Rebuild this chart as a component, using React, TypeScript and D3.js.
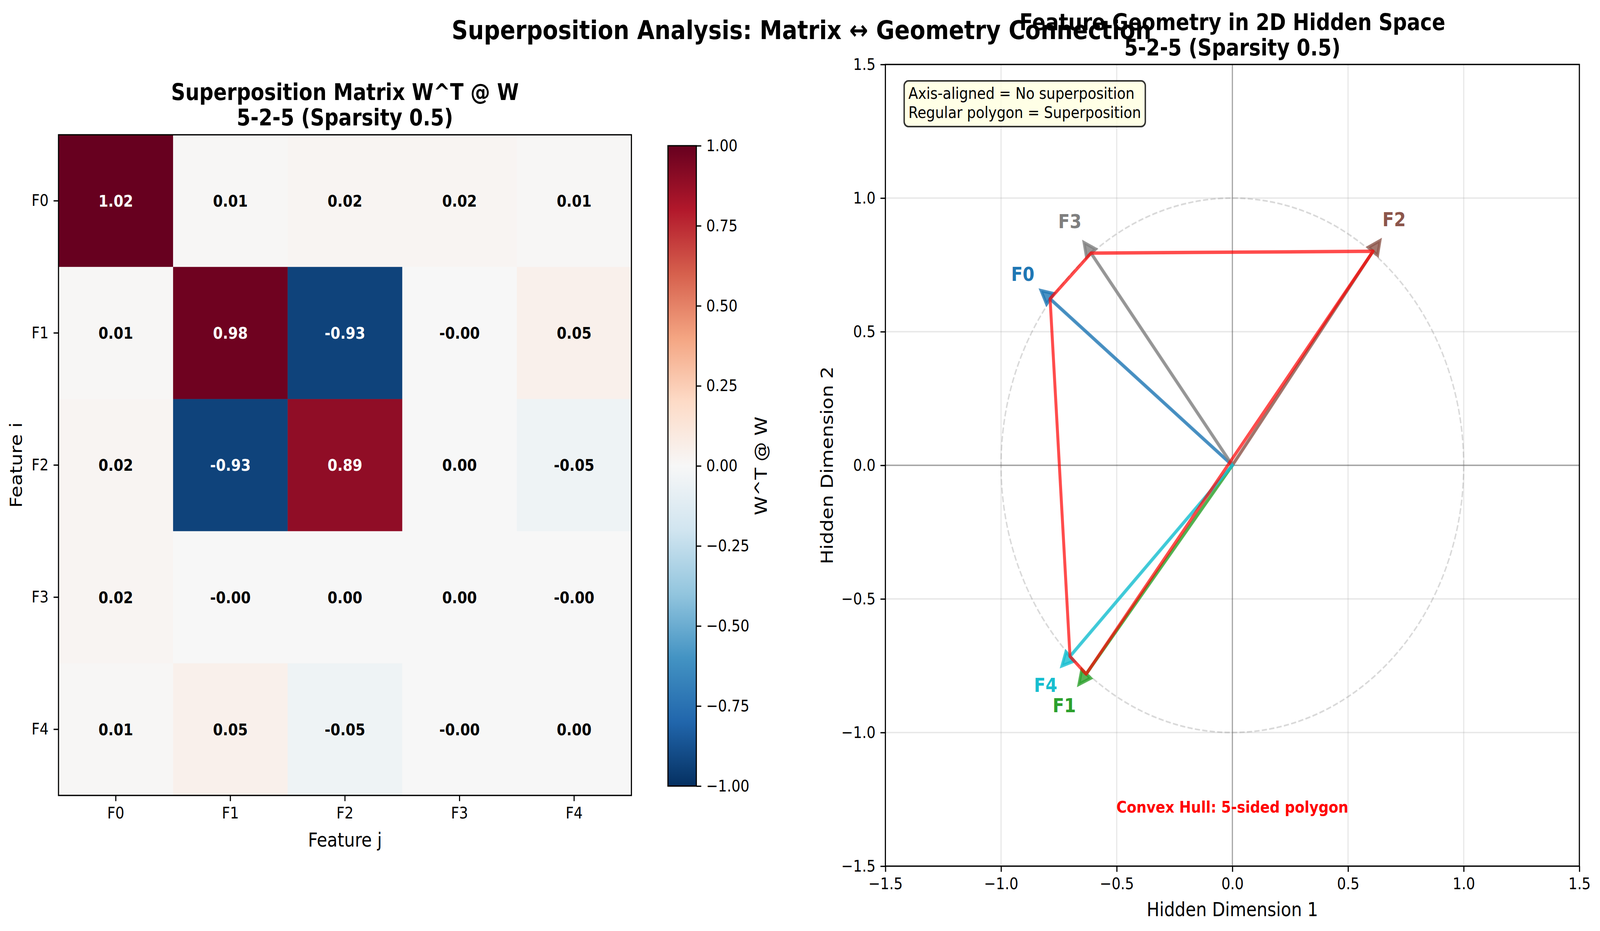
import * as d3 from "d3";
import { useEffect, useRef } from "react";

// ---- data ----
const features = ["F0", "F1", "F2", "F3", "F4"];

// rows of W^T @ W (tiny signed values keep the "-0.00" / "0.00" labels)
const rowF0 = [1.02, 0.01, 0.02, 0.02, 0.01];
const rowF1 = [0.01, 0.98, -0.93, -0.002, 0.05];
const rowF2 = [0.02, -0.93, 0.89, 0.002, -0.05];
const rowF3 = [0.02, -0.002, 0.002, 0.002, -0.002];
const rowF4 = [0.01, 0.05, -0.05, -0.002, 0.002];
const matrixRows = [rowF0, rowF1, rowF2, rowF3, rowF4];

// feature directions in the 2D hidden space
const vectorX = [-0.788, -0.632, 0.608, -0.611, -0.702];
const vectorY = [0.623, -0.781, 0.801, 0.794, -0.715];
const hullOrder = [0, 3, 2, 1, 4];

const colorbarTicks = [-1, -0.75, -0.5, -0.25, 0, 0.25, 0.5, 0.75, 1];
const geometryTicks = [-1.5, -1, -0.5, 0, 0.5, 1, 1.5];

const featureColors = ["#1f77b4", "#2ca02c", "#8c564b", "#7f7f7f", "#17becf"];
// RdBu_r, from -1 to +1
const rdbuStops = [
    "#053061", "#2166ac", "#4393c3", "#92c5de", "#d1e5f0", "#f7f7f7",
    "#fddbc7", "#f4a582", "#d6604d", "#b2182b", "#67001f",
];

const mainTitle = "Superposition Analysis: Matrix \u2194 Geometry Connection";
const infoLines = ["Axis-aligned = No superposition", "Regular polygon = Superposition"];

const W = 4731;
const H = 2383;
const PT = 300 / 72;
const FONT = "'DejaVu Sans', sans-serif";

const minus = (s: string) => s.replace(/-/g, "\u2212");

function styleAxis(g: d3.Selection<SVGGElement, unknown, null, undefined>) {
    g.select(".domain").remove();
    g.selectAll("line").attr("stroke", "#000").attr("stroke-width", 0.8 * PT);
    g.selectAll("text")
        .attr("font-family", FONT)
        .attr("font-size", 10 * PT)
        .attr("fill", "#000");
}

function arrowPoints(vx: number, vy: number): [number, number][] {
    const hw = 0.05;
    const hl = 0.05;
    const w = 0.001;
    const len = Math.hypot(vx, vy);
    const ux = vx / len;
    const uy = vy / len;
    const px = -uy;
    const py = ux;
    const local: [number, number][] = [
        [len + hl, 0],
        [len, hw / 2],
        [len, w / 2],
        [0, w / 2],
        [0, -w / 2],
        [len, -w / 2],
        [len, -hw / 2],
    ];
    return local.map(([a, b]) => [a * ux + b * px, a * uy + b * py]);
}

function drawFigure(svgEl: SVGSVGElement) {
    const svg = d3.select(svgEl);
    svg.selectAll("*").remove();
    // the window is narrower than the figure, so the figure is fitted to the whole viewport
    svg.attr("viewBox", `0 0 ${W} ${H}`)
        .attr("preserveAspectRatio", "none")
        .style("width", "100vw")
        .style("height", "100vh")
        .style("font-family", FONT)
        .style("display", "block");

    svg.append("rect").attr("width", W).attr("height", H).attr("fill", "#fff");

    // Suptitle
    svg.append("text")
        .attr("x", 2370)
        .attr("y", 100)
        .attr("text-anchor", "middle")
        .attr("font-size", 16 * PT)
        .attr("font-weight", "bold")
        .text(mainTitle);

    // ================= Heatmap =================
    const hm = { left: 173, right: 1867, top: 345, bottom: 2036 };
    const x = d3.scaleBand().domain(features).range([hm.left, hm.right]);
    const y = d3.scaleBand().domain(features).range([hm.top, hm.bottom]);
    const color = d3
        .scaleLinear<string>()
        .domain(d3.range(11).map((i) => -1 + i * 0.2))
        .range(rdbuStops)
        .interpolate(d3.interpolateRgb)
        .clamp(true);

    const cells = matrixRows.flatMap((row, i) => row.map((v, j) => ({ i, j, v })));

    const heat = svg.append("g");
    heat.selectAll("rect.cell")
        .data(cells)
        .join("rect")
        .attr("class", "cell")
        .attr("x", (d) => x(features[d.j])!)
        .attr("y", (d) => y(features[d.i])!)
        .attr("width", x.bandwidth() + 0.5)
        .attr("height", y.bandwidth() + 0.5)
        .attr("fill", (d) => color(d.v));

    heat.selectAll("text.val")
        .data(cells)
        .join("text")
        .attr("class", "val")
        .attr("x", (d) => x(features[d.j])! + x.bandwidth() / 2)
        .attr("y", (d) => y(features[d.i])! + y.bandwidth() / 2)
        .attr("dy", "0.36em")
        .attr("text-anchor", "middle")
        .attr("font-size", 10 * PT)
        .attr("font-weight", "bold")
        .attr("fill", (d) => (Math.abs(d.v) > 0.5 ? "#fff" : "#000"))
        .text((d) => d.v.toFixed(2));

    heat.append("rect")
        .attr("x", hm.left)
        .attr("y", hm.top)
        .attr("width", hm.right - hm.left)
        .attr("height", hm.bottom - hm.top)
        .attr("fill", "none")
        .attr("stroke", "#000")
        .attr("stroke-width", 0.8 * PT);

    svg.append("g")
        .attr("transform", `translate(0,${hm.bottom})`)
        .call(d3.axisBottom(x).tickSize(3.5 * PT).tickPadding(3.5 * PT))
        .call(styleAxis);
    svg.append("g")
        .attr("transform", `translate(${hm.left},0)`)
        .call(d3.axisLeft(y).tickSize(3.5 * PT).tickPadding(3.5 * PT))
        .call(styleAxis);

    // Heatmap title
    const hmCx = (hm.left + hm.right) / 2;
    [["Superposition Matrix W^T @ W", 256], ["5-2-5 (Sparsity 0.5)", 321]].forEach(([t, yy]) => {
        svg.append("text")
            .attr("x", hmCx)
            .attr("y", yy as number)
            .attr("text-anchor", "middle")
            .attr("font-size", 14 * PT)
            .attr("font-weight", "bold")
            .text(t as string);
    });

    svg.append("text")
        .attr("x", hmCx)
        .attr("y", 2167)
        .attr("text-anchor", "middle")
        .attr("font-size", 12 * PT)
        .text("Feature j");
    svg.append("text")
        .attr("transform", `translate(48,${(hm.top + hm.bottom) / 2}) rotate(-90)`)
        .attr("text-anchor", "middle")
        .attr("dominant-baseline", "central")
        .attr("font-size", 12 * PT)
        .text("Feature i");

    // ================= Colorbar =================
    const cb = { left: 1975, right: 2059, top: 373, bottom: 2012 };
    const cbScale = d3.scaleLinear().domain([-1, 1]).range([cb.bottom, cb.top]);
    const defs = svg.append("defs");
    const grad = defs
        .append("linearGradient")
        .attr("id", "cbGrad")
        .attr("x1", 0)
        .attr("y1", 1)
        .attr("x2", 0)
        .attr("y2", 0);
    rdbuStops.forEach((c, i) => {
        grad.append("stop").attr("offset", i / (rdbuStops.length - 1)).attr("stop-color", c);
    });
    svg.append("rect")
        .attr("x", cb.left)
        .attr("y", cbScale(1))
        .attr("width", cb.right - cb.left)
        .attr("height", cbScale(-1) - cbScale(1))
        .attr("fill", "url(#cbGrad)")
        .attr("stroke", "#000")
        .attr("stroke-width", 0.8 * PT);
    svg.append("g")
        .attr("transform", `translate(${cb.right},0)`)
        .call(
            d3
                .axisRight(cbScale)
                .tickValues(colorbarTicks)
                .tickSize(3.5 * PT)
                .tickPadding(3.5 * PT)
                .tickFormat((d) => minus(d3.format(".2f")(d as number)))
        )
        .call(styleAxis);
    svg.append("text")
        .attr("transform", `translate(2250,${(cb.top + cb.bottom) / 2}) rotate(-90)`)
        .attr("text-anchor", "middle")
        .attr("dominant-baseline", "central")
        .attr("font-size", 12 * PT)
        .text("W^T @ W");

    // ================= Geometry =================
    const ga = { left: 2618, right: 4670, top: 165, bottom: 2217 };
    const gx = d3.scaleLinear().domain([-1.5, 1.5]).range([ga.left, ga.right]);
    const gy = d3.scaleLinear().domain([-1.5, 1.5]).range([ga.bottom, ga.top]);
    const geo = svg.append("g");

    // grid
    geo.selectAll("line.vgrid")
        .data(geometryTicks)
        .join("line")
        .attr("x1", (d) => gx(d))
        .attr("x2", (d) => gx(d))
        .attr("y1", ga.top)
        .attr("y2", ga.bottom)
        .attr("stroke", "#b0b0b0")
        .attr("stroke-opacity", 0.3)
        .attr("stroke-width", 0.8 * PT);
    geo.selectAll("line.hgrid")
        .data(geometryTicks)
        .join("line")
        .attr("y1", (d) => gy(d))
        .attr("y2", (d) => gy(d))
        .attr("x1", ga.left)
        .attr("x2", ga.right)
        .attr("stroke", "#b0b0b0")
        .attr("stroke-opacity", 0.3)
        .attr("stroke-width", 0.8 * PT);

    // zero lines
    geo.append("line")
        .attr("x1", ga.left)
        .attr("x2", ga.right)
        .attr("y1", gy(0))
        .attr("y2", gy(0))
        .attr("stroke", "#000")
        .attr("stroke-opacity", 0.3)
        .attr("stroke-width", 0.8 * PT);
    geo.append("line")
        .attr("x1", gx(0))
        .attr("x2", gx(0))
        .attr("y1", ga.top)
        .attr("y2", ga.bottom)
        .attr("stroke", "#000")
        .attr("stroke-opacity", 0.3)
        .attr("stroke-width", 0.8 * PT);

    // unit circle
    geo.append("circle")
        .attr("cx", gx(0))
        .attr("cy", gy(0))
        .attr("r", gx(1) - gx(0))
        .attr("fill", "none")
        .attr("stroke", "#808080")
        .attr("stroke-opacity", 0.3)
        .attr("stroke-width", 1 * PT)
        .attr("stroke-dasharray", `${3.7 * PT} ${1.6 * PT}`);

    // arrows
    const line = d3
        .line<[number, number]>()
        .x((p) => gx(p[0]))
        .y((p) => gy(p[1]));
    features.forEach((f, i) => {
        geo.append("path")
            .attr("d", line(arrowPoints(vectorX[i], vectorY[i]))! + "Z")
            .attr("fill", featureColors[i])
            .attr("fill-opacity", 0.8)
            .attr("stroke", featureColors[i])
            .attr("stroke-opacity", 0.8)
            .attr("stroke-width", 2 * PT)
            .attr("stroke-linejoin", "miter");
        geo.append("text")
            .attr("x", gx(vectorX[i] * 1.15))
            .attr("y", gy(vectorY[i] * 1.15))
            .attr("dy", "0.36em")
            .attr("text-anchor", "middle")
            .attr("font-size", 12 * PT)
            .attr("font-weight", "bold")
            .attr("fill", featureColors[i])
            .text(f);
    });

    // convex hull
    const hullLine = d3
        .line<number>()
        .x((i) => gx(vectorX[i]))
        .y((i) => gy(vectorY[i]))
        .curve(d3.curveLinearClosed);
    geo.append("path")
        .attr("d", hullLine(hullOrder)!)
        .attr("fill", "none")
        .attr("stroke", "red")
        .attr("stroke-opacity", 0.7)
        .attr("stroke-width", 2.1 * PT)
        .attr("stroke-linejoin", "round");

    geo.append("text")
        .attr("x", gx(0))
        .attr("y", gy(-1.3))
        .attr("text-anchor", "middle")
        .attr("font-size", 10 * PT)
        .attr("font-weight", "bold")
        .attr("fill", "red")
        .text("Convex Hull: 5-sided polygon");

    // info box
    const box = geo.append("g");
    const boxRect = box.append("rect");
    const boxText = box.append("g");
    infoLines.forEach((t, k) => {
        boxText
            .append("text")
            .attr("x", 2686)
            .attr("y", 253 + k * 49)
            .attr("font-size", 10 * PT)
            .text(t);
    });
    const bb = (boxText.node() as SVGGElement).getBBox();
    const pad = 0.3 * 10 * PT;
    boxRect
        .attr("x", 2686 - pad)
        .attr("y", 207)
        .attr("width", bb.width + 2 * pad)
        .attr("height", 117)
        .attr("rx", pad)
        .attr("fill", "#ffffe0")
        .attr("fill-opacity", 0.8)
        .attr("stroke", "#000")
        .attr("stroke-opacity", 0.8)
        .attr("stroke-width", 1 * PT);

    // frame + ticks
    geo.append("rect")
        .attr("x", ga.left)
        .attr("y", ga.top)
        .attr("width", ga.right - ga.left)
        .attr("height", ga.bottom - ga.top)
        .attr("fill", "none")
        .attr("stroke", "#000")
        .attr("stroke-width", 0.8 * PT);
    svg.append("g")
        .attr("transform", `translate(0,${ga.bottom})`)
        .call(
            d3
                .axisBottom(gx)
                .tickValues(geometryTicks)
                .tickSize(3.5 * PT)
                .tickPadding(3.5 * PT)
                .tickFormat((d) => minus(d3.format(".1f")(d as number)))
        )
        .call(styleAxis);
    svg.append("g")
        .attr("transform", `translate(${ga.left},0)`)
        .call(
            d3
                .axisLeft(gy)
                .tickValues(geometryTicks)
                .tickSize(3.5 * PT)
                .tickPadding(3.5 * PT)
                .tickFormat((d) => minus(d3.format(".1f")(d as number)))
        )
        .call(styleAxis);

    const gaCx = (ga.left + ga.right) / 2;
    [["Feature Geometry in 2D Hidden Space", 77], ["5-2-5 (Sparsity 0.5)", 142]].forEach(([t, yy]) => {
        svg.append("text")
            .attr("x", gaCx)
            .attr("y", yy as number)
            .attr("text-anchor", "middle")
            .attr("font-size", 14 * PT)
            .attr("font-weight", "bold")
            .text(t as string);
    });
    svg.append("text")
        .attr("x", gaCx)
        .attr("y", 2345)
        .attr("text-anchor", "middle")
        .attr("font-size", 12 * PT)
        .text("Hidden Dimension 1");
    svg.append("text")
        .attr("transform", `translate(2445,${(ga.top + ga.bottom) / 2}) rotate(-90)`)
        .attr("text-anchor", "middle")
        .attr("dominant-baseline", "central")
        .attr("font-size", 12 * PT)
        .text("Hidden Dimension 2");
}

export default function App() {
    const ref = useRef<SVGSVGElement | null>(null);

    useEffect(() => {
        if (ref.current) drawFigure(ref.current);
    }, []);

    return (
        <>
            <style>{"html,body{margin:0;padding:0;overflow:hidden;background:#fff}"}</style>
            <svg ref={ref}></svg>
        </>
    );
}
